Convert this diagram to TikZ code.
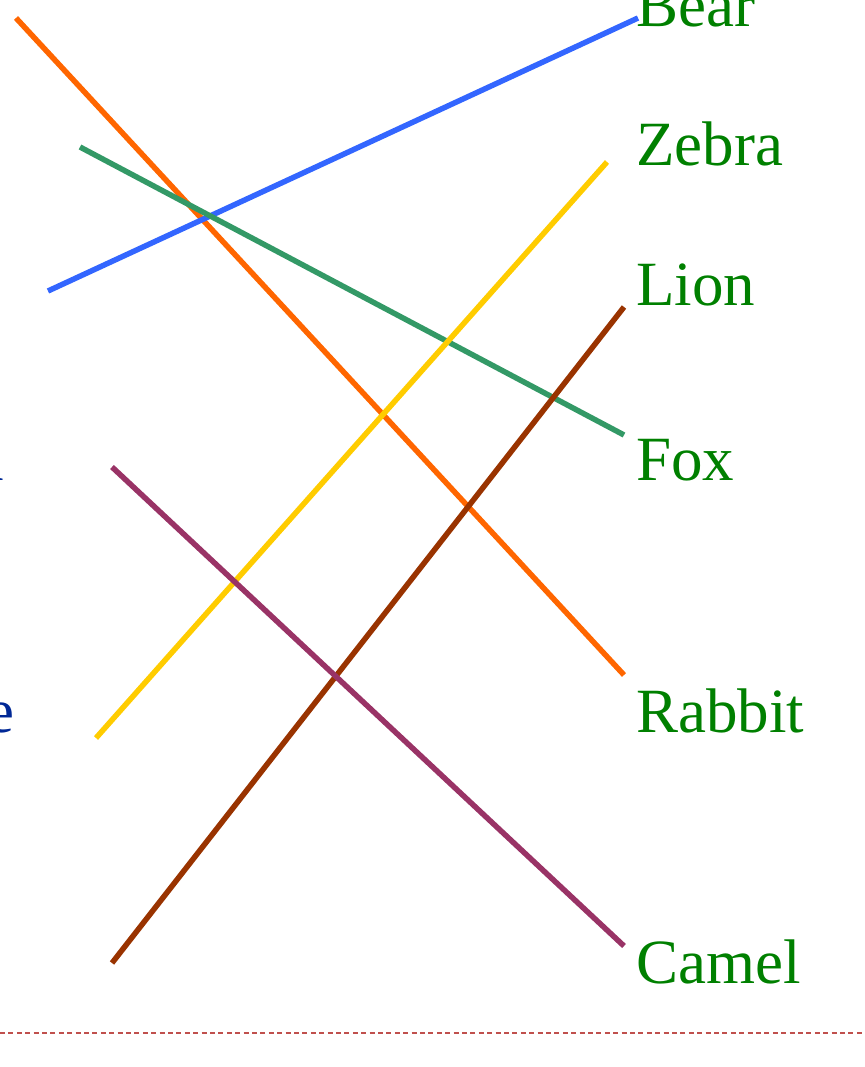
\documentclass[tikz,border=0pt]{standalone}
\usepackage{fontspec}
\setmainfont{Liberation Serif}
\usepackage{xcolor}
\usepackage{tikz}
\usetikzlibrary{positioning, calc}
\definecolor{myorange}{RGB}{255,102,0}
\definecolor{myblue}{RGB}{51,102,255}
\definecolor{mygreen}{RGB}{51,153,102}
\definecolor{myyellow}{RGB}{255,204,0}
\definecolor{mybrown}{RGB}{153,51,0}
\definecolor{myplum}{RGB}{153,51,102}
\definecolor{lblgreen}{RGB}{0,128,0}
\definecolor{lblblue}{RGB}{0,40,150}
\definecolor{mydash}{RGB}{192,80,77}
\tikzset{
  animal/.style={anchor=base west, inner sep=0pt, text=lblgreen,
    font=\fontsize{63}{70}\selectfont},
  leftword/.style={anchor=base east, inner sep=0pt, text=lblblue,
    font=\fontsize{63}{70}\selectfont},
  match/.style={line width=5.5pt, line cap=butt},
  rule/.style={line width=1.6pt, color=mydash, dash pattern=on 5pt off 3.4pt}
}
\begin{document}
\begin{tikzpicture}[x=1pt, y=-1pt]
  \clip (0,0) rectangle (864,1067);

  % Animal labels
  \node[animal] (bear)   at (636,27)  {Bear};
  \node[animal] (zebra)  at (636,166) {Zebra};
  \node[animal] (lion)   at (636,305) {Lion};
  \node[animal] (fox)    at (636,480) {Fox};
  \node[animal] (rabbit) at (636,732) {Rabbit};
  \node[animal] (camel)  at (636,983) {Camel};

  % Left column (cut off)
  \node[leftword] (lw1) at (4,480)  {n};
  \node[leftword] (lw2) at (15,732) {e};

  % Line ends
  \coordinate (a1) at (16,18);   \coordinate (b1) at (624,675);
  \coordinate (a2) at (48,291);  \coordinate (b2) at (638,18);
  \coordinate (a3) at (80,147);  \coordinate (b3) at (624,435);
  \coordinate (a4) at (96,738);  \coordinate (b4) at (607,162);
  \coordinate (a5) at (112,963); \coordinate (b5) at (624,307);
  \coordinate (a6) at (112,467); \coordinate (b6) at (624,946);

  % Matching lines
  \draw[match, myorange] (a1) -- (b1);
  \draw[match, myblue]   (a2) -- (b2);
  \draw[match, mygreen]  (a3) -- (b3);
  \draw[match, myyellow] (a4) -- (b4);
  \draw[match, mybrown]  (a5) -- (b5);
  \draw[match, myplum]   (a6) -- (b6);

  % Bottom rule
  \coordinate (r1) at (0,1033);
  \coordinate (r2) at (864,1033);
  \draw[rule] (r1) -- (r2);
\end{tikzpicture}
\end{document}
